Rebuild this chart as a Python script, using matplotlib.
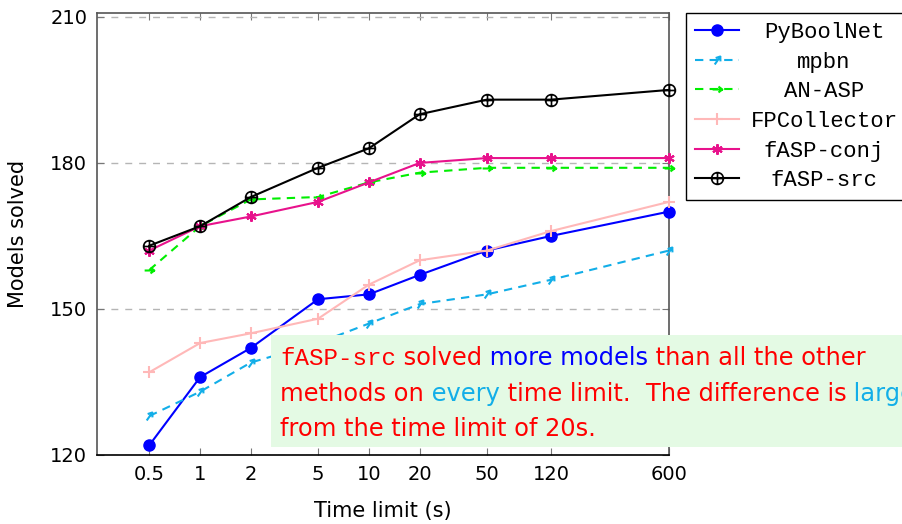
import matplotlib
matplotlib.use("Agg")
import matplotlib.pyplot as plt
from matplotlib.path import Path
from matplotlib.markers import MarkerStyle
from matplotlib.transforms import Affine2D
from matplotlib.patches import Rectangle
from matplotlib.ticker import NullLocator

plt.rcParams['font.family'] = ['DejaVu Sans']

# time limits (s) and models solved per method
times = [0.5, 1, 2, 5, 10, 20, 50, 120, 600]
tick_labels = ["0.5", "1", "2", "5", "10", "20", "50", "120", "600"]
y_ticks = [120, 150, 180, 210]

pyboolnet = [122, 136, 142, 152, 153, 157, 162, 165, 170]
mpbn = [128, 133, 139, 143, 147, 151, 153, 156, 162]
an_asp = [158, 167, 172.5, 173, 176, 178, 179, 179, 179]
fpcollector = [137, 143, 145, 148, 155, 160, 162, 166, 172]
fasp_conj = [162, 167, 169, 172, 176, 180, 181, 181, 181]
fasp_src = [163, 167, 173, 179, 183, 190, 193, 193, 195]

RED = "#ff0000"
BLUE = "#0000ff"
CYAN = "#12aee8"
MONO = "Liberation Mono"

M, L = Path.MOVETO, Path.LINETO
arrow = Path([(-1, 0), (1, 0), (0.2, 0.6), (1, 0), (0.2, -0.6)], [M, L, L, M, L])
oplus = Path.make_compound_path(Path.unit_circle(),
                                Path([(-1, 0), (1, 0)], [M, L]),
                                Path([(0, -1), (0, 1)], [M, L]))

fig = plt.figure(figsize=(9.03, 5.24), dpi=100)
ax = fig.add_axes([97/903, 69/524, 572/903, 442/524])

dash = (0, (4, 3))
ax.plot(times, pyboolnet, color=BLUE, lw=1.5, marker='o', ms=8,
        label="PyBoolNet", clip_on=False, zorder=3)
ax.plot(times, mpbn, color=CYAN, lw=1.5, ls=dash,
        marker=MarkerStyle(arrow, transform=Affine2D().rotate_deg(55)),
        ms=7, mfc='none', mew=1.5, label="mpbn", clip_on=False, zorder=3)
ax.plot(times, an_asp, color="#00ee00", lw=1.5, ls=dash,
        marker=MarkerStyle(arrow), ms=7, mfc='none', mew=1.5,
        label="AN-ASP", clip_on=False, zorder=3)
ax.plot(times, fpcollector, color="#ffb8b8", lw=1.5, marker='+', ms=9,
        mew=1.5, label="FPCollector", clip_on=False, zorder=3)
ax.plot(times, fasp_conj, color="#e8128c", lw=1.5, marker=(6, 2, 0), ms=7.5,
        mew=1.5, label="fASP-conj", clip_on=False, zorder=3)
ax.plot(times, fasp_src, color="black", lw=1.5, marker=oplus, ms=8.5,
        mfc='none', mew=1.2, label="fASP-src", clip_on=False, zorder=3)

ax.set_xscale('log')
ax.set_xlim(0.245, 600)
ax.set_ylim(120, 210.8)
ax.set_xticks(times)
ax.set_xticklabels(tick_labels)
ax.xaxis.set_minor_locator(NullLocator())
ax.set_yticks(y_ticks)
ax.tick_params(which='both', direction='in', top=True, right=True,
               length=5, color='#777777', labelsize=14, pad=7)
ax.yaxis.grid(True, ls=(0, (5, 5)), color='#b5b5b5', lw=1)
ax.set_axisbelow(True)
for s in ax.spines.values():
    s.set_color('#555555')
    s.set_linewidth(1.2)
ax.spines['bottom'].set_color('black')

ax.set_xlabel("Time limit (s)", fontsize=15)
ax.set_ylabel("Models solved", fontsize=15)
ax.xaxis.set_label_coords(0.5, -0.103)
ax.yaxis.set_label_coords(-0.12, 0.5)

leg = ax.legend(loc='upper left', bbox_to_anchor=(686/903, 1 - 13/524),
                bbox_transform=fig.transFigure, prop={'family': MONO, 'size': 16},
                fancybox=False, edgecolor='black', framealpha=1,
                borderaxespad=0, handlelength=2.0, labelspacing=0.39,
                borderpad=0.4, handletextpad=0.5)
leg.get_frame().set_linewidth(1.0)

# centre the legend labels like the original
fig.canvas.draw()
renderer = fig.canvas.get_renderer()
widths = [t.get_window_extent(renderer).width for t in leg.get_texts()]
for t, w in zip(leg.get_texts(), widths):
    t.set_x((max(widths) - w) / 2)

# note box
fig.add_artist(Rectangle((271/903, 1 - 447/524), 1, 112/524,
                         transform=fig.transFigure, facecolor="#e4fae4",
                         edgecolor='none', zorder=5))

note = [
    [("fASP-src", RED, MONO), (" solved", RED, None),
     (" more models", BLUE, None), (" than all the other", RED, None)],
    [("methods on", RED, None), (" every", CYAN, None),
     (" time limit.  The difference is", RED, None), (" larger", CYAN, None)],
    [("from the time limit of 20s.", RED, None)],
]
baselines = [365, 401, 436]
for line, yb in zip(note, baselines):
    x = 280 / 903
    for text, color, fam in line:
        kw = {'family': fam} if fam else {}
        t = fig.text(x, 1 - yb/524, text, color=color, fontsize=17.4,
                     va='baseline', ha='left', zorder=6, **kw)
        x += t.get_window_extent(renderer).width / fig.bbox.width

fig.savefig("out.png", dpi=100)
